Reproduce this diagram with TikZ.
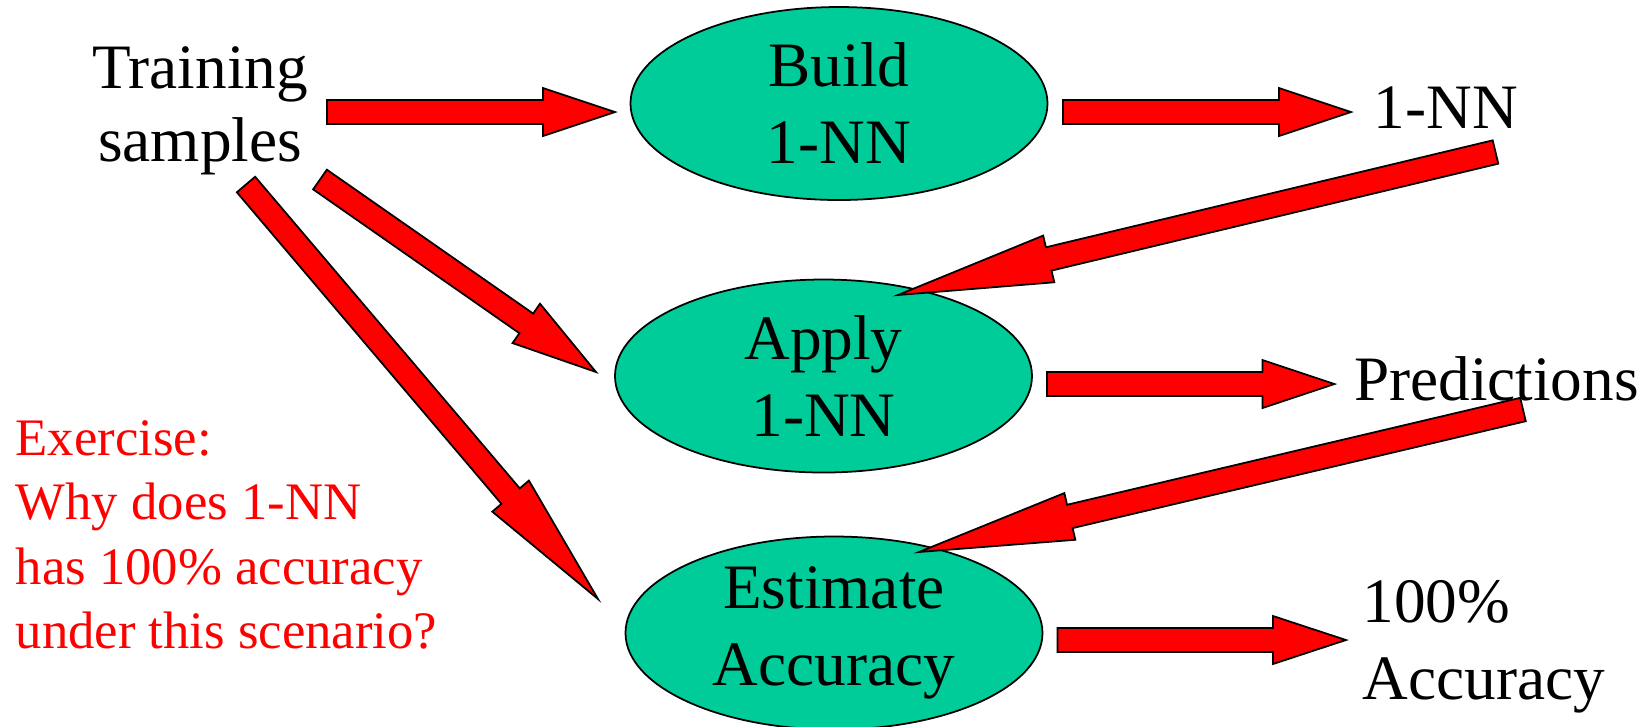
\documentclass[tikz,border=0pt]{standalone}
\usepackage{fontspec}
\setmainfont{Liberation Serif}
\usetikzlibrary{shapes.geometric,calc}

\definecolor{nodegreen}{RGB}{0,204,153}
\tikzset{
  stepellipse/.style={ellipse,draw=black,line width=0.5pt,fill=nodegreen,inner sep=0pt,
    minimum width=4.17cm,minimum height=1.93cm,align=center,font=\fontsize{18}{21.9}\selectfont},
  plaintext/.style={inner sep=0pt,font=\fontsize{18}{21.9}\selectfont},
  fatred/.style={draw=black,line width=0.5pt,fill=red,line join=miter}
}
% block arrow: start, tip, head length
\newcommand{\fatarrow}[3]{%
  \coordinate (hb) at ($(#2)!#3!(#1)$);
  \draw[fatred] ($(#1)!0.12cm!-90:(#2)$) -- ($(hb)!0.12cm!90:(#1)$) -- ($(hb)!0.24cm!90:(#1)$)
    -- (#2) -- ($(hb)!0.24cm!-90:(#1)$) -- ($(hb)!0.12cm!-90:(#1)$) -- ($(#1)!0.12cm!90:(#2)$) -- cycle;}

\begin{document}
\begin{tikzpicture}
  \useasboundingbox (0,0) rectangle (16.5,-7.26);
  % texts and steps
  \node[plaintext,anchor=north,align=center,font=\fontsize{18}{20.8}\selectfont] (train) at (2.00,-0.46) {Training\\samples};
  \node[stepellipse] (build) at (8.39,-1.035) {Build\\1-NN};
  \node[stepellipse] (apply) at (8.235,-3.76) {Apply\\1-NN};
  \node[stepellipse] (estimate) at (8.34,-6.33) {Estimate\\Accuracy};
  \node[plaintext,anchor=base] (nnout) at (14.46,-1.28) {1-NN};
  \node[plaintext,anchor=base] (pred) at (14.965,-4.00) {Predictions};
  \node[plaintext,anchor=north west,align=left] (acc) at (13.62,-5.80) {100\%\\Accuracy};
  \node[anchor=north west,align=left,text=red,inner sep=0pt,font=\fontsize{15}{18.3}\selectfont] (exercise) at (0.15,-4.20)
    {Exercise:\\Why does 1-NN\\has 100\% accuracy\\under this scenario?};

  % arrow ends
  \coordinate (train-b) at (3.27,-1.12);
  \coordinate (build-w) at (6.15,-1.12);
  \coordinate (build-e) at (10.63,-1.12);
  \coordinate (nnout-w) at (13.51,-1.12);
  \coordinate (nnout-s) at (14.955,-1.52);
  \coordinate (apply-n) at (8.98,-2.95);
  \coordinate (train-a) at (3.20,-1.795);
  \coordinate (apply-w) at (5.96,-3.72);
  \coordinate (apply-e) at (10.47,-3.84);
  \coordinate (pred-w) at (13.345,-3.84);
  \coordinate (pred-s) at (15.23,-4.095);
  \coordinate (estimate-n) at (9.19,-5.52);
  \coordinate (train-e) at (2.46,-1.845);
  \coordinate (estimate-w) at (5.98,-5.99);
  \coordinate (estimate-e) at (10.575,-6.40);
  \coordinate (acc-w) at (13.46,-6.40);

  \fatarrow{train-b}{build-w}{0.72cm}
  \fatarrow{build-e}{nnout-w}{0.72cm}
  \fatarrow{nnout-s}{apply-n}{1.55cm}
  \fatarrow{train-a}{apply-w}{0.85cm}
  \fatarrow{apply-e}{pred-w}{0.72cm}
  \fatarrow{pred-s}{estimate-n}{1.55cm}
  \fatarrow{train-e}{estimate-w}{1.35cm}
  \fatarrow{estimate-e}{acc-w}{0.73cm}
\end{tikzpicture}
\end{document}
